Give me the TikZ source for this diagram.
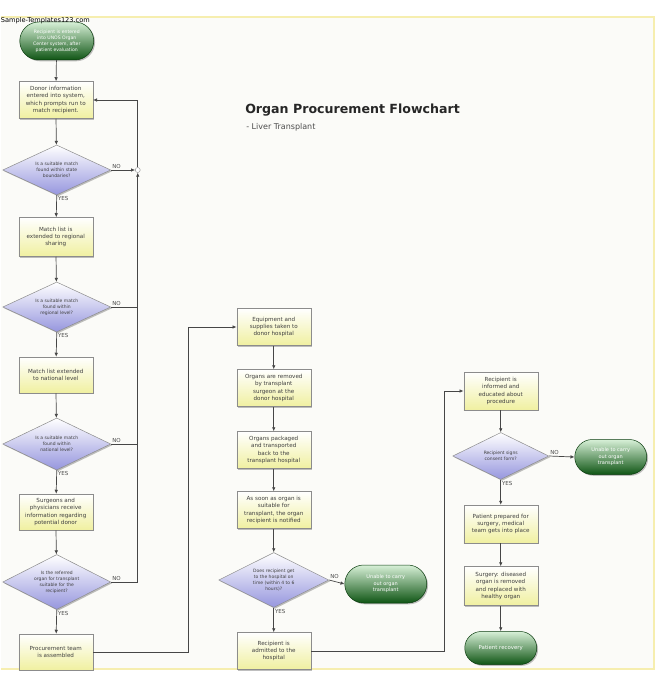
\documentclass[tikz,border=0pt]{standalone}
\usepackage{fontspec}
\setmainfont{DejaVu Sans}
\usepackage{tikz}
\usetikzlibrary{shapes.geometric,shapes.misc,arrows.meta,shadows}
\usepackage{xcolor}

\definecolor{pagebg}{RGB}{251,251,248}
\definecolor{pageline}{RGB}{246,238,175}
\definecolor{boxline}{RGB}{140,140,140}
\definecolor{boxyellow}{RGB}{240,240,160}
\definecolor{diamondblue}{RGB}{150,150,222}
\definecolor{greenlight}{RGB}{215,240,215}
\definecolor{greenmid}{RGB}{75,160,75}
\definecolor{greendark}{RGB}{15,85,20}
\definecolor{linegray}{RGB}{70,70,70}

\begin{document}
\begin{tikzpicture}[
        x=1pt, y=-1pt,
        every node/.style={font=\fontsize{5.6}{7.4}\selectfont, text=black!75},
        procbox/.style={rectangle, draw=boxline, line width=0.5pt, top color=white, middle color=white!85!boxyellow, bottom color=boxyellow,
            minimum width=74pt, minimum height=37pt, inner sep=1pt, align=center,
            drop shadow={shadow xshift=1.3pt, shadow yshift=-1.3pt, opacity=0.5}},
        decision/.style={diamond, draw=boxline, line width=0.5pt, top color=white, middle color=white!92!diamondblue, bottom color=diamondblue,
            aspect=2.16, inner sep=0pt, align=center, font=\fontsize{4.5}{5.9}\selectfont,
            drop shadow={shadow xshift=1.3pt, shadow yshift=-1.3pt, opacity=0.5}},
        endpoint/.style={rounded rectangle, draw=greendark!70!black, line width=0.5pt, top color=greenlight, middle color=greenmid, bottom color=greendark,
            inner sep=1pt, align=center, text=white, font=\fontsize{5}{6.4}\selectfont,
            drop shadow={shadow xshift=1.3pt, shadow yshift=-1.3pt, opacity=0.5}},
        flow/.style={draw=linegray, line width=0.7pt, -{Latex[length=4pt,width=3.6pt]}},
        plain/.style={draw=linegray, line width=0.7pt},
        lbl/.style={font=\fontsize{5.5}{6}\selectfont, text=black!70, inner sep=1pt}
    ]
        % page - white band on top, pale sheet with yellow edges
        \fill[white] (0,0) rectangle (656,676);
        \fill[pagebg] (0,17) rectangle (653,669);
        \draw[pageline, line width=1.5pt] (0,17) -- (653,17) -- (653,669) -- (0,669);

        % title
        \node[anchor=west, font=\bfseries\fontsize{12.6}{15}\selectfont, text=black!85] (title) at (241,110) {Organ Procurement Flowchart};
        \node[anchor=west, font=\fontsize{8}{10}\selectfont, text=black!70] (subtitle) at (242,127) {- Liver Transplant};

        % left column - matching the donor organ
        \node[endpoint, minimum width=76pt, minimum height=38pt, font=\fontsize{4.6}{5.9}\selectfont] (start) at (56,41) {Recipient is entered\\into UNOS Organ\\Center system, after\\patient evaluation};
        \node[procbox] (donor) at (55,100) {Donor information\\entered into system,\\which prompts run to\\match recipient.};
        \node[decision, minimum width=108pt, minimum height=50pt] (qstate) at (56,170) {Is a suitable match\\found within state\\boundaries?};
        \node[procbox, minimum height=39pt] (regional) at (55,237) {Match list is\\extended to regional\\sharing};
        \node[decision, minimum width=108pt, minimum height=50pt] (qregion) at (56,307) {Is a suitable match\\found within\\regional level?};
        \node[procbox, minimum height=36pt] (national) at (55,375) {Match list extended\\to national level};
        \node[decision, minimum width=108pt, minimum height=52pt] (qnation) at (56,444) {Is a suitable match\\found within\\national level?};
        \node[procbox, minimum height=36pt] (surgeons) at (55,512) {Surgeons and\\physicians receive\\information regarding\\potential donor};
        \node[decision, minimum width=108pt, minimum height=55pt] (qsuitable) at (56,582) {Is the referred\\organ for transplant\\suitable for the\\recipient?};
        \node[procbox, minimum height=36pt] (team) at (55,652) {Procurement team\\is assembled};

        % junction on the return line
        \node[circle, draw=boxline, fill=white, inner sep=0pt, minimum size=5pt] (j1) at (137,170) {};
        \coordinate (busa) at (188,0);
        \coordinate (busb) at (444,0);

        % middle column - organ recovery
        \node[procbox] (equip) at (273,327) {Equipment and\\supplies taken to\\donor hospital};
        \node[procbox] (removed) at (273,388) {Organs are removed\\by transplant\\surgeon at the\\donor hospital};
        \node[procbox] (packaged) at (273,450) {Organs packaged\\and transported\\back to the\\transplant hospital};
        \node[procbox] (notified) at (273,510) {As soon as organ is\\suitable for\\transplant, the organ\\recipient is notified};
        \node[decision, minimum width=110pt, minimum height=55pt] (qtime) at (273,580) {Does recipient get\\to the hospital on\\time (within 4 to 6\\hours)?};
        \node[endpoint, minimum width=84pt, minimum height=38pt] (unablea) at (385,584) {Unable to carry\\out organ\\transplant};
        \node[procbox] (admitted) at (273,651) {Recipient is\\admitted to the\\hospital};

        % right column - transplant
        \node[procbox, minimum height=38pt] (informed) at (500,391) {Recipient is\\informed and\\educated about\\procedure};
        \node[decision, minimum width=96pt, minimum height=47pt] (qconsent) at (500,456) {Recipient signs\\consent form?};
        \node[endpoint, minimum width=74pt, minimum height=35pt] (unableb) at (610,457) {Unable to carry\\out organ\\transplant};
        \node[procbox, minimum height=38pt] (prepared) at (500,524) {Patient prepared for\\surgery, medical\\team gets into place};
        \node[procbox, minimum height=39pt] (surgery) at (500,586) {Surgery: diseased\\organ is removed\\and replaced with\\healthy organ};
        \node[endpoint, minimum width=74pt, minimum height=33pt, font=\fontsize{5.4}{6.4}\selectfont] (recovery) at (500,648) {Patient recovery};

        % connectors - left column
        \draw[flow] (start) -- (donor);
        \draw[flow] (donor) -- (qstate);
        \draw[flow] (qstate.south) -- node[lbl, pos=0, below right]{YES} (regional);
        \draw[flow] (regional) -- (qregion);
        \draw[flow] (qregion.south) -- node[lbl, pos=0, below right]{YES} (national);
        \draw[flow] (national) -- (qnation);
        \draw[flow] (qnation.south) -- node[lbl, pos=0, below right]{YES} (surgeons);
        \draw[flow] (surgeons) -- (qsuitable);
        \draw[flow] (qsuitable.south) -- node[lbl, pos=0, below right]{YES} (team);

        % NO branches back to the donor box
        \draw[flow] (qstate.east) -- node[lbl, pos=0, above right]{NO} (j1.west);
        \draw[plain] (qregion.east) -- node[lbl, pos=0, above right]{NO} (qregion.east -| j1);
        \draw[plain] (qnation.east) -- node[lbl, pos=0, above right]{NO} (qnation.east -| j1);
        \draw[flow] (qsuitable.east) -- node[lbl, pos=0, above right]{NO} (qsuitable.east -| j1) -- (j1.south);
        \draw[flow] (j1.north) |- (donor.east);

        % connectors - middle column
        \draw[flow] (team.east) -- (team.east -| busa) |- (equip.west);
        \draw[flow] (equip) -- (removed);
        \draw[flow] (removed) -- (packaged);
        \draw[flow] (packaged) -- (notified);
        \draw[flow] (notified) -- (qtime);
        \draw[flow] (qtime.east) -- node[lbl, pos=0, above right]{NO} (unablea.west);
        \draw[flow] (qtime.south) -- node[lbl, pos=0, below right]{YES} (admitted);

        % connectors - right column
        \draw[flow] (admitted.east) -- (admitted.east -| busb) |- (informed.west);
        \draw[flow] (informed) -- (qconsent);
        \draw[flow] (qconsent.east) -- node[lbl, pos=0, above right]{NO} (unableb.west);
        \draw[flow] (qconsent.south) -- node[lbl, pos=0, below right]{YES} (prepared);
        \draw[flow] (prepared) -- (surgery);
        \draw[flow] (surgery) -- (recovery);

        % watermark
        \node[anchor=west, inner sep=0pt, font=\fontsize{6.6}{8}\selectfont, text=black] (mark) at (0,21) {Sample-Templates123.com};

    \end{tikzpicture}
\end{document}
